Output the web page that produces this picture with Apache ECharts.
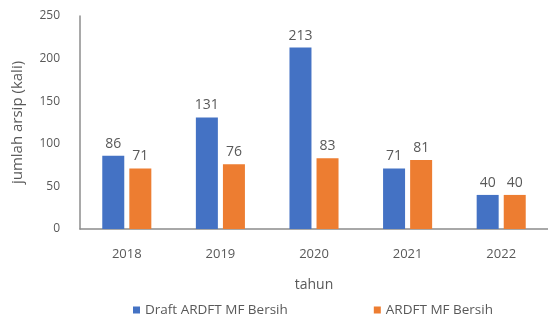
<!DOCTYPE html>
<html>
<head>
<meta charset="utf-8">
<script src="https://cdn.jsdelivr.net/npm/echarts@6/dist/echarts.min.js"></script>
<style>
  html, body { margin: 0; padding: 0; background: #fff; }
  #chart { width: 548px; height: 323px; }
</style>
</head>
<body>
<div id="chart"></div>
<script>
// Yearly counts for the two archive categories
const years = ['2018', '2019', '2020', '2021', '2022'];
const draftValues = [86, 131, 213, 71, 40];
const finalValues = [71, 76, 83, 81, 40];
const seriesNames = ['Draft ARDFT MF Bersih', 'ARDFT MF Bersih'];
const yTicks = [0, 50, 100, 150, 200, 250];

const textGray = '#595959';
const font = '"Open Sans", "Noto Sans", sans-serif';

const chart = echarts.init(document.getElementById('chart'), null, { renderer: 'canvas' });

const labelStyle = {
  show: true,
  position: 'top',
  distance: 5,
  color: textGray,
  fontSize: 14,
  fontFamily: font
};

chart.setOption({
  animation: false,
  backgroundColor: '#ffffff',
  grid: { left: 80, top: 16, width: 479, height: 213, containLabel: false },
  legend: {
    bottom: 1,
    left: 128,
    itemGap: 86,
    itemWidth: 7,
    itemHeight: 7,
    icon: 'rect',
    textStyle: { color: textGray, fontSize: 13.5, fontFamily: font },
    data: seriesNames
  },
  xAxis: {
    type: 'category',
    data: years,
    name: 'tahun',
    nameLocation: 'middle',
    nameGap: 49,
    nameTextStyle: { color: textGray, fontSize: 14, fontFamily: font },
    axisLine: { lineStyle: { color: '#8c8c8c', width: 1.5 } },
    axisTick: { show: false },
    axisLabel: { color: textGray, fontSize: 13, fontFamily: font, margin: 19 }
  },
  yAxis: {
    type: 'value',
    min: yTicks[0],
    max: yTicks[yTicks.length - 1],
    interval: 50,
    name: 'jumlah arsip (kali)',
    nameLocation: 'middle',
    nameGap: 55,
    nameTextStyle: { color: textGray, fontSize: 15, fontFamily: font },
    axisLine: { show: true, lineStyle: { color: '#8c8c8c', width: 1.5 } },
    axisTick: { show: false },
    splitLine: { show: false },
    axisLabel: { color: textGray, fontSize: 12, fontFamily: font, margin: 20 }
  },
  series: [
    {
      name: seriesNames[0],
      type: 'bar',
      data: draftValues,
      barWidth: 22,
      barGap: '23%',
      itemStyle: { color: '#4472C4' },
      label: labelStyle
    },
    {
      name: seriesNames[1],
      type: 'bar',
      data: finalValues,
      barWidth: 22,
      barGap: '23%',
      itemStyle: { color: '#ED7D31' },
      label: labelStyle
    }
  ]
});
</script>
</body>
</html>
